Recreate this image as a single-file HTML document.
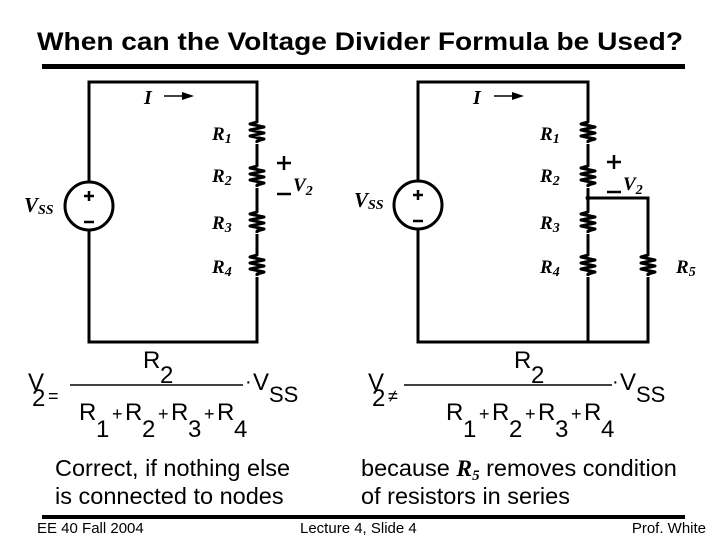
<!DOCTYPE html>
<html><head><meta charset="utf-8"><style>
html,body{margin:0;padding:0;background:#fff;}
svg{display:block;}
text{font-family:"Liberation Sans",Arial,sans-serif;fill:#000;}
.s{font-family:"Liberation Serif","Times New Roman",serif;font-weight:bold;font-style:italic;}
</style></head><body>
<svg width="720" height="540" viewBox="0 0 720 540" xmlns="http://www.w3.org/2000/svg">
<text x="360" y="50" font-size="25" font-weight="bold" text-anchor="middle" textLength="646" lengthAdjust="spacingAndGlyphs">When can the Voltage Divider Formula be Used?</text>
<rect x="42" y="64" width="643" height="5" fill="#000"/>
<rect x="42" y="515" width="643" height="4" fill="#000"/>

<defs>
<path id="res" d="M0,0 l0,2 l-7,2 l14,3 l-14,3 l14,3 l-14,3 l14,3 l-7,2 l0,2" fill="none" stroke="#000" stroke-width="3" stroke-linejoin="round"/>
</defs>
<g fill="none" stroke="#000" stroke-width="3">
<path d="M89,182 V82 H257 V120 M257,144 V164 M257,188 V210 M257,234 V253 M257,277 V342 H89 V230"/>
<circle cx="89" cy="206" r="24"/>
<path d="M418,182 V82 H588 V120 M588,144 V164 M588,188 V210 M588,234 V253 M588,277 V342 H418 V230 M588,198 H648 V253 M648,277 V342 H588"/>
<circle cx="418" cy="205" r="24"/>
</g>
<use href="#res" x="257" y="120"/><use href="#res" x="257" y="164"/><use href="#res" x="257" y="210"/><use href="#res" x="257" y="253"/>
<use href="#res" x="588" y="120"/><use href="#res" x="588" y="164"/><use href="#res" x="588" y="210"/><use href="#res" x="588" y="253"/><use href="#res" x="648" y="253"/>
<circle cx="588" cy="198" r="2.5" fill="#000"/>
<g stroke="#000" stroke-width="2.5">
<path d="M84,196 h10 M89,191 v10 M84,222 h10"/>
<path d="M413,195 h10 M418,190 v10 M413,221 h10"/>
<path d="M277,163 h14 M284,156 v14 M277,194 h14"/>
<path d="M607,162 h14 M614,155 v14 M607,192 h14"/>
</g>
<g stroke="#000" stroke-width="1.5"><path d="M164,96 h20"/><path d="M494,96 h20"/></g>
<path d="M182,92 l12,4 l-12,4z" fill="#000"/><path d="M512,92 l12,4 l-12,4z" fill="#000"/>
<text class="s" x="144" y="104" font-size="20">I</text><text class="s" x="473" y="104" font-size="20">I</text>
<text class="s" x="24" y="212" font-size="21">V<tspan font-size="14" dy="2">SS</tspan></text>
<text class="s" x="354" y="207" font-size="21">V<tspan font-size="14" dy="2">SS</tspan></text>
<text class="s" x="293" y="191" font-size="19">V<tspan font-size="14" dy="4">2</tspan></text>
<text class="s" x="623" y="190" font-size="19">V<tspan font-size="14" dy="4">2</tspan></text>
<g font-size="19">
<text class="s" x="212" y="140">R<tspan font-size="14" dy="3">1</tspan></text>
<text class="s" x="212" y="182">R<tspan font-size="14" dy="3">2</tspan></text>
<text class="s" x="212" y="229">R<tspan font-size="14" dy="3">3</tspan></text>
<text class="s" x="212" y="273">R<tspan font-size="14" dy="3">4</tspan></text>
<text class="s" x="540" y="140">R<tspan font-size="14" dy="3">1</tspan></text>
<text class="s" x="540" y="182">R<tspan font-size="14" dy="3">2</tspan></text>
<text class="s" x="540" y="229">R<tspan font-size="14" dy="3">3</tspan></text>
<text class="s" x="540" y="273">R<tspan font-size="14" dy="3">4</tspan></text>
<text class="s" x="676" y="273">R<tspan font-size="14" dy="3">5</tspan></text>
</g>
<g font-size="24">
<text x="28" y="390">V</text><text x="32" y="406">2</text><text x="48" y="402" font-size="18">=</text>
<line x1="70" y1="385" x2="243" y2="385" stroke="#000" stroke-width="1.5"/>
<text x="143" y="368">R</text><text x="160" y="383">2</text>
<text x="245" y="388" font-size="20">·</text><text x="253" y="390">V</text><text x="269" y="402" font-size="22">SS</text>
<text x="79" y="420">R</text><text x="96" y="437">1</text><text x="112" y="420" font-size="18">+</text>
<text x="125" y="420">R</text><text x="142" y="437">2</text><text x="158" y="420" font-size="18">+</text>
<text x="171" y="420">R</text><text x="188" y="437">3</text><text x="204" y="420" font-size="18">+</text>
<text x="217" y="420">R</text><text x="234" y="437">4</text>

<text x="368" y="390">V</text><text x="372" y="406">2</text><text x="388" y="402" font-size="18">≠</text>
<line x1="404" y1="385" x2="612" y2="385" stroke="#000" stroke-width="1.5"/>
<text x="514" y="368">R</text><text x="531" y="383">2</text>
<text x="612" y="388" font-size="20">·</text><text x="620" y="390">V</text><text x="636" y="402" font-size="22">SS</text>
<text x="446" y="420">R</text><text x="463" y="437">1</text><text x="479" y="420" font-size="18">+</text>
<text x="492" y="420">R</text><text x="509" y="437">2</text><text x="525" y="420" font-size="18">+</text>
<text x="538" y="420">R</text><text x="555" y="437">3</text><text x="571" y="420" font-size="18">+</text>
<text x="584" y="420">R</text><text x="601" y="437">4</text>
</g>
<g font-size="23.5">
<text x="55" y="476">Correct, if nothing else</text>
<text x="55" y="504">is connected to nodes</text>
<text x="361" y="476">because <tspan class="s">R</tspan><tspan class="s" font-size="15" dy="4">5</tspan><tspan dy="-4"> removes condition</tspan></text>
<text x="361" y="504">of resistors in series</text>
</g>
<g font-size="15">
<text x="37" y="533">EE 40 Fall 2004</text>
<text x="300" y="533">Lecture 4, Slide 4</text>
<text x="706" y="533" text-anchor="end">Prof. White</text>
</g>
</svg>
</body></html>
